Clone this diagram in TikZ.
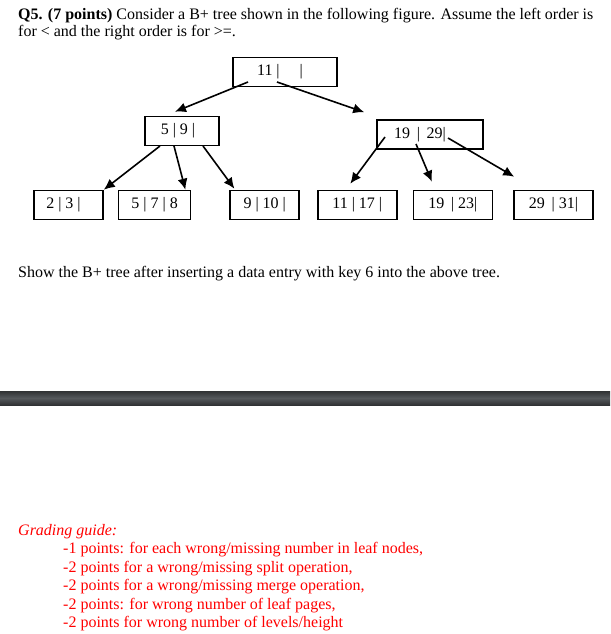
\documentclass[tikz,border=0pt]{standalone}
\usepackage{fontspec}
\setmainfont{Liberation Serif}
\usepackage{tikz}
\usetikzlibrary{arrows.meta,positioning}
\definecolor{barmid}{HTML}{55595C}
\definecolor{bardark}{HTML}{303234}

\begin{document}
\begin{tikzpicture}[x=1pt,y=-1pt, every node/.style={font=\fontsize{16}{17}\selectfont},
keybox/.style={draw,line width=1.6pt,minimum height=29pt,inner sep=0pt,align=center},
ptr/.style={-{Latex[length=11pt,width=10pt]},line width=1.6pt},
txt/.style={anchor=base west,inner sep=0pt},
grade/.style={txt,text=red}]
\useasboundingbox (0,0) rectangle (610,634);
% question text
\node[txt] (q1) at (18,20) {\textbf{Q5. (7 points)} Consider a B+ tree shown in the following figure. Assume the left order is};
\node[txt] (q2) at (18,36.5) {for < and the right order is for >=.};
% tree
\node[keybox,minimum width=104pt] (root) at (285,72) {11 |\hspace{20pt}|\hspace{10pt}};
\node[keybox,minimum width=74pt] (n59) at (182,131) {5 | 9 |\hspace{8pt}};
\node[keybox,minimum width=106pt] (n1929) at (430,134.5) {19 \,| \,29|\hspace{20pt}};
\node[keybox,minimum width=69pt] (l23) at (68.5,205) {2 | 3 |\hspace{10pt}};
\node[keybox,minimum width=72pt,right=14pt of l23] (l578) {5 | 7 | 8};
\node[keybox,minimum width=69pt,right=38pt of l578] (l910) {9 | 10 |};
\node[keybox,minimum width=79pt,right=17pt of l910] (l1117) {11 | 17 |};
\node[keybox,minimum width=79pt,right=15pt of l1117] (l1923) {19 \,| 23|};
\node[keybox,minimum width=79pt,right=20pt of l1923] (l2931) {29 \,| 31|};
% pointers
\coordinate (r1) at (248,82); \coordinate (r2) at (277,82);
\coordinate (a1) at (160,146); \coordinate (a2) at (174,146); \coordinate (a3) at (203,146);
\coordinate (b1) at (385,137); \coordinate (b2) at (416,144); \coordinate (b3) at (448,138);
\draw[ptr] (r1) -- ([xshift=-7pt,yshift=4pt]n59.north);
\draw[ptr] (r2) -- ([xshift=-12pt,yshift=7pt]n1929.north west);
\draw[ptr] (a1) -- (l23.north east);
\draw[ptr] (a2) -- ([xshift=-6pt]l578.north east);
\draw[ptr] (a3) -- ([xshift=5pt,yshift=1pt]l910.north west);
\draw[ptr] (b1) -- ([xshift=-7pt,yshift=6pt]l1117.north);
\draw[ptr] (b2) -- ([xshift=-21pt,yshift=8pt]l1923.north);
\draw[ptr] (b3) -- ([xshift=1pt,yshift=13pt]l2931.north west);
\node[txt] (q3) at (18,277) {Show the B+ tree after inserting a data entry with key 6 into the above tree.};
% separator bar
\shade[top color=bardark,bottom color=bardark,middle color=barmid] (0,391) rectangle (610,405);
% grading guide
\node[grade] (g0) at (18,535) {\itshape Grading guide:};
\node[grade] (g1) at (63,553) {-1 points: for each wrong/missing number in leaf nodes,};
\node[grade] (g2) at (63,572) {-2 points for a wrong/missing split operation,};
\node[grade] (g3) at (63,590.5) {-2 points for a wrong/missing merge operation,};
\node[grade] (g4) at (63,609) {-2 points: for wrong number of leaf pages,};
\node[grade] (g5) at (63,627) {-2 points for wrong number of levels/height};
\end{tikzpicture}
\end{document}
